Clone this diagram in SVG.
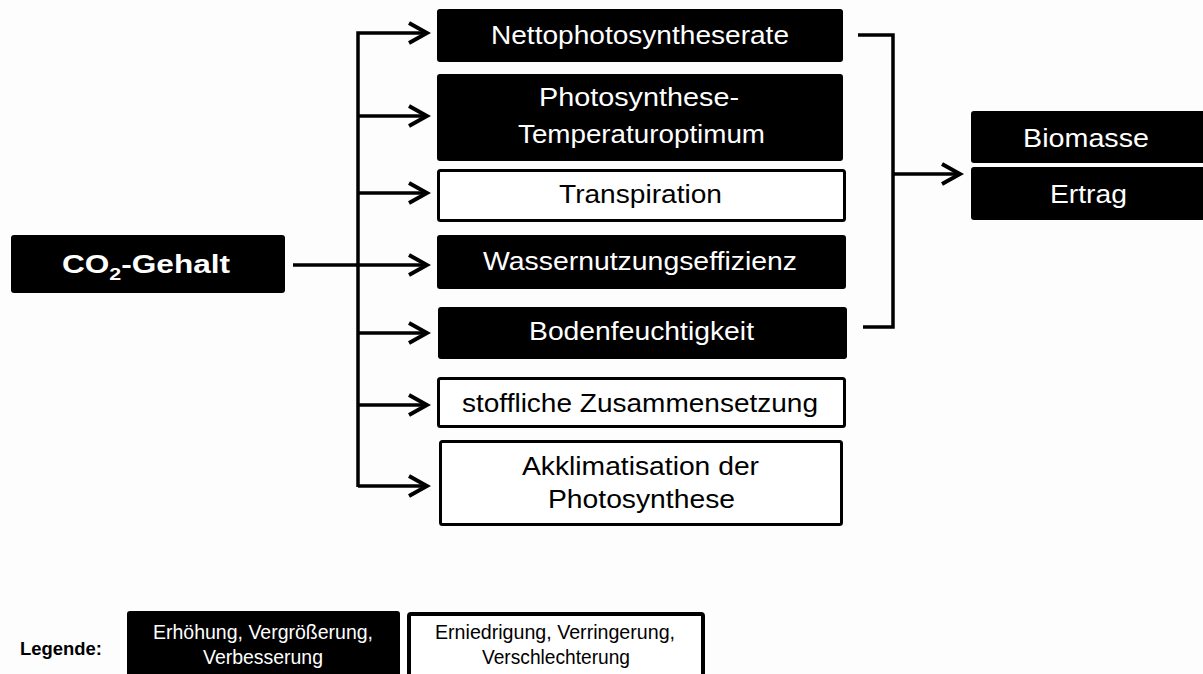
<svg xmlns="http://www.w3.org/2000/svg" width="1203" height="674" viewBox="0 0 1203 674">
  <style>
    .dark { fill: #000; }
    .light { fill: #fff; stroke: #000; stroke-width: 3; }
    .t { font-family: "Liberation Sans", Arial, sans-serif; font-size: 25px; text-anchor: middle; }
    .tw { fill: #fff; }
    .tb { fill: #000; }
    .lg { font-family: "Liberation Sans", Arial, sans-serif; font-size: 20px; text-anchor: middle; }
    .wire { fill: none; stroke: #000; stroke-width: 3.5; }
  </style>
  <defs>
    <marker id="open" viewBox="0 0 24 24" refX="20" refY="12" markerWidth="24" markerHeight="24" markerUnits="userSpaceOnUse" orient="auto">
      <path d="M2,2 L20,12 L2,22" fill="none" stroke="#000" stroke-width="4" stroke-linejoin="miter"/>
    </marker>
  </defs>

  <rect width="1203" height="674" fill="#fdfdfd"/>

  <!-- connectors -->
  <g id="connectors">
    <path class="wire" d="M293,265 L427,265" marker-end="url(#open)"/>
    <path class="wire" d="M358,487 L358,33 L427,33" marker-end="url(#open)"/>
    <path class="wire" d="M358,116 L427,116" marker-end="url(#open)"/>
    <path class="wire" d="M358,193 L427,193" marker-end="url(#open)"/>
    <path class="wire" d="M358,333 L427,333" marker-end="url(#open)"/>
    <path class="wire" d="M358,405 L427,405" marker-end="url(#open)"/>
    <path class="wire" d="M358,486 L427,486" marker-end="url(#open)"/>
    <path class="wire" d="M858,35 L893,35 L893,327 L863,327"/>
    <path class="wire" d="M893,174 L960,174" marker-end="url(#open)"/>
  </g>

  <g id="co2">
    <rect class="dark" x="11" y="235" width="274" height="58" rx="3"/>
    <text class="t tw" x="146" y="273" font-size="28" font-weight="bold" textLength="168" lengthAdjust="spacingAndGlyphs">CO<tspan font-size="17" dy="7">2</tspan><tspan dy="-7">-Gehalt</tspan></text>
  </g>

  <g id="netto">
    <rect class="dark" x="437" y="9" width="406" height="53" rx="3"/>
    <text class="t tw" x="640" y="44" textLength="298" lengthAdjust="spacingAndGlyphs">Nettophotosyntheserate</text>
  </g>

  <g id="temperatur">
    <rect class="dark" x="437" y="74" width="406" height="87" rx="3"/>
    <text class="t tw" x="639" y="106" textLength="200" lengthAdjust="spacingAndGlyphs">Photosynthese-</text>
    <text class="t tw" x="641.5" y="143" textLength="247" lengthAdjust="spacingAndGlyphs">Temperaturoptimum</text>
  </g>

  <g id="transpiration">
    <rect class="light" x="438.5" y="170.5" width="406" height="50" rx="2"/>
    <text class="t tb" x="640.5" y="203" textLength="163" lengthAdjust="spacingAndGlyphs">Transpiration</text>
  </g>

  <g id="wasser">
    <rect class="dark" x="437" y="235" width="409" height="54" rx="3"/>
    <text class="t tw" x="640" y="270" textLength="314" lengthAdjust="spacingAndGlyphs">Wassernutzungseffizienz</text>
  </g>

  <g id="boden">
    <rect class="dark" x="438" y="307" width="409" height="52" rx="3"/>
    <text class="t tw" x="641.5" y="340" textLength="225" lengthAdjust="spacingAndGlyphs">Bodenfeuchtigkeit</text>
  </g>

  <g id="stofflich">
    <rect class="light" x="438.5" y="378.5" width="406" height="48" rx="2"/>
    <text class="t tb" x="640" y="412" textLength="356" lengthAdjust="spacingAndGlyphs">stoffliche Zusammensetzung</text>
  </g>

  <g id="akklimatisation">
    <rect class="light" x="440.5" y="441.5" width="401" height="83" rx="2"/>
    <text class="t tb" x="640.5" y="475" textLength="237" lengthAdjust="spacingAndGlyphs">Akklimatisation der</text>
    <text class="t tb" x="641.5" y="508" textLength="187" lengthAdjust="spacingAndGlyphs">Photosynthese</text>
  </g>

  <g id="biomasse">
    <rect class="dark" x="971" y="111" width="240" height="52" rx="3"/>
    <text class="t tw" x="1086" y="147" textLength="126" lengthAdjust="spacingAndGlyphs">Biomasse</text>
  </g>

  <g id="ertrag">
    <rect class="dark" x="971" y="167" width="240" height="53" rx="3"/>
    <text class="t tw" x="1088.5" y="203" textLength="77" lengthAdjust="spacingAndGlyphs">Ertrag</text>
  </g>

  <!-- legend -->
  <g id="legende">
    <text x="20" y="655" font-family="Liberation Sans, Arial, sans-serif" font-size="19" font-weight="bold" fill="#000" textLength="82" lengthAdjust="spacingAndGlyphs">Legende:</text>
    <rect class="dark" x="127" y="611" width="273" height="80" rx="3"/>
    <text class="lg tw" x="263" y="639" textLength="220" lengthAdjust="spacingAndGlyphs">Erhöhung, Vergrößerung,</text>
    <text class="lg tw" x="263" y="664" textLength="120" lengthAdjust="spacingAndGlyphs">Verbesserung</text>
    <rect x="409" y="614" width="294" height="80" rx="2" fill="#fff" stroke="#000" stroke-width="4"/>
    <text class="lg tb" x="555" y="639" textLength="240" lengthAdjust="spacingAndGlyphs">Erniedrigung, Verringerung,</text>
    <text class="lg tb" x="556" y="664" textLength="148" lengthAdjust="spacingAndGlyphs">Verschlechterung</text>
  </g>
</svg>
